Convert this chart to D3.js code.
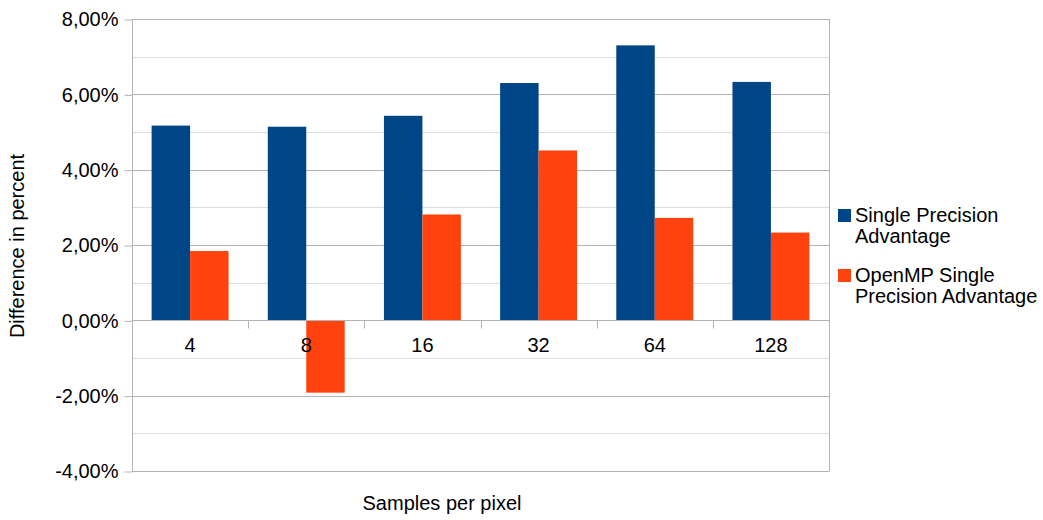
<!DOCTYPE html>
<html>
<head>
<meta charset="utf-8">
<script src="https://cdn.jsdelivr.net/npm/d3@7"></script>
<style>
  html, body { margin: 0; padding: 0; background: #fff; }
  svg { display: block; font-family: "Liberation Sans", Arial, sans-serif; }
</style>
</head>
<body>
<svg id="chart" width="1043" height="520"></svg>
<script>
// Sample counts per pixel (x categories)
const categories = ["4", "8", "16", "32", "64", "128"];
// Series names
const seriesNames = ["Single Precision Advantage", "OpenMP Single Precision Advantage"];
// Percentage differences per series
const singlePrecision = [5.17, 5.14, 5.43, 6.30, 7.30, 6.33];
const openmpSinglePrecision = [1.84, -1.92, 2.81, 4.51, 2.72, 2.33];
// Y-axis ticks (percent)
const majorTicks = [-4, -2, 0, 2, 4, 6, 8];
const minorTicks = [-3, -1, 1, 3, 5, 7];

const seriesValues = [singlePrecision, openmpSinglePrecision];
const colors = ["#004586", "#ff420e"];

const svg = d3.select("#chart");
const plot = { left: 132, right: 829, top: 19, bottom: 471 };

const locale = d3.formatLocale({ decimal: ",", thousands: ".", grouping: [3], currency: ["", "%"], minus: "-" });
const fmt = d => locale.format(".2f")(d) + "%";

const y = d3.scaleLinear().domain([-4, 8]).range([plot.bottom, plot.top]);
const x0 = d3.scaleBand().domain(categories).range([plot.left, plot.right]).padding(0);
const x1 = d3.scaleBand().domain(seriesNames).range([0, x0.bandwidth()])
  .paddingInner(0).paddingOuter(0.51);

// Minor gridlines
svg.append("g").selectAll("line").data(minorTicks).join("line")
  .attr("x1", plot.left).attr("x2", plot.right)
  .attr("y1", d => Math.round(y(d)) + 0.5).attr("y2", d => Math.round(y(d)) + 0.5)
  .attr("stroke", "#dddddd").attr("stroke-width", 1);

// Major gridlines
svg.append("g").selectAll("line").data(majorTicks).join("line")
  .attr("x1", plot.left).attr("x2", plot.right)
  .attr("y1", d => Math.round(y(d)) + 0.5).attr("y2", d => Math.round(y(d)) + 0.5)
  .attr("stroke", "#b3b3b3").attr("stroke-width", 1);

// Right border of the plot area
svg.append("line")
  .attr("x1", plot.right + 0.5).attr("x2", plot.right + 0.5)
  .attr("y1", plot.top).attr("y2", plot.bottom + 0.5)
  .attr("stroke", "#b3b3b3");

// Bars
const groups = svg.append("g").selectAll("g").data(categories).join("g")
  .attr("transform", d => `translate(${x0(d)},0)`);
groups.selectAll("rect")
  .data((c, i) => seriesNames.map((s, k) => ({ s, k, v: seriesValues[k][i] })))
  .join("rect")
  .attr("x", d => x1(d.s))
  .attr("width", x1.bandwidth())
  .attr("y", d => y(Math.max(0, d.v)))
  .attr("height", d => Math.abs(y(d.v) - y(0)))
  .attr("fill", d => colors[d.k]);

// Y axis
const yAxis = d3.axisLeft(y).tickValues(majorTicks).tickFormat(fmt).tickSize(8).tickPadding(6);
const yg = svg.append("g").attr("transform", `translate(${plot.left + 0.5},0.5)`).call(yAxis);
yg.select(".domain").attr("stroke", "#b3b3b3").attr("d", `M0,${plot.top}V${plot.bottom}`);
yg.selectAll(".tick line").attr("stroke", "#b3b3b3");
yg.selectAll(".tick text").attr("font-size", 20).attr("fill", "#000")
  .attr("font-family", "Liberation Sans, Arial, sans-serif");

// X axis along zero line, with ticks between categories
const xg = svg.append("g").attr("transform", `translate(0,${Math.round(y(0)) + 0.5})`);
xg.append("line").attr("x1", plot.left).attr("x2", plot.right).attr("stroke", "#b3b3b3");
const boundaries = categories.map(c => x0(c)).concat([x0(categories[categories.length - 1]) + x0.bandwidth()]);
xg.selectAll("line.tk").data(boundaries.slice(1)).join("line").attr("class", "tk")
  .attr("x1", d => Math.round(d) + 0.5).attr("x2", d => Math.round(d) + 0.5)
  .attr("y1", 0).attr("y2", 8).attr("stroke", "#b3b3b3");
xg.selectAll("text").data(categories).join("text")
  .attr("x", d => x0(d) + x0.bandwidth() / 2)
  .attr("y", 31)
  .attr("text-anchor", "middle")
  .attr("font-size", 20)
  .attr("fill", "#000")
  .text(d => d);

// Axis titles
svg.append("text")
  .attr("transform", `translate(24,${(plot.top + plot.bottom) / 2 + 1}) rotate(-90)`)
  .attr("text-anchor", "middle").attr("font-size", 20).attr("fill", "#000")
  .text("Difference in percent");
svg.append("text")
  .attr("x", 442).attr("y", 510)
  .attr("text-anchor", "middle").attr("font-size", 20).attr("fill", "#000")
  .text("Samples per pixel");

// Legend
const legendLines = [["Single Precision", "Advantage"], ["OpenMP Single", "Precision Advantage"]];
const legend = svg.append("g");
const lg = legend.selectAll("g").data(seriesNames).join("g")
  .attr("transform", (d, i) => `translate(838,${209 + i * 60})`);
lg.append("rect").attr("width", 13).attr("height", 13).attr("fill", (d, i) => colors[i]);
lg.append("text").attr("x", 17).attr("y", 13).attr("font-size", 20).attr("fill", "#000")
  .selectAll("tspan").data((d, i) => legendLines[i]).join("tspan")
  .attr("x", 17).attr("dy", (d, j) => j === 0 ? 0 : 21)
  .text(d => d);
</script>
</body>
</html>
